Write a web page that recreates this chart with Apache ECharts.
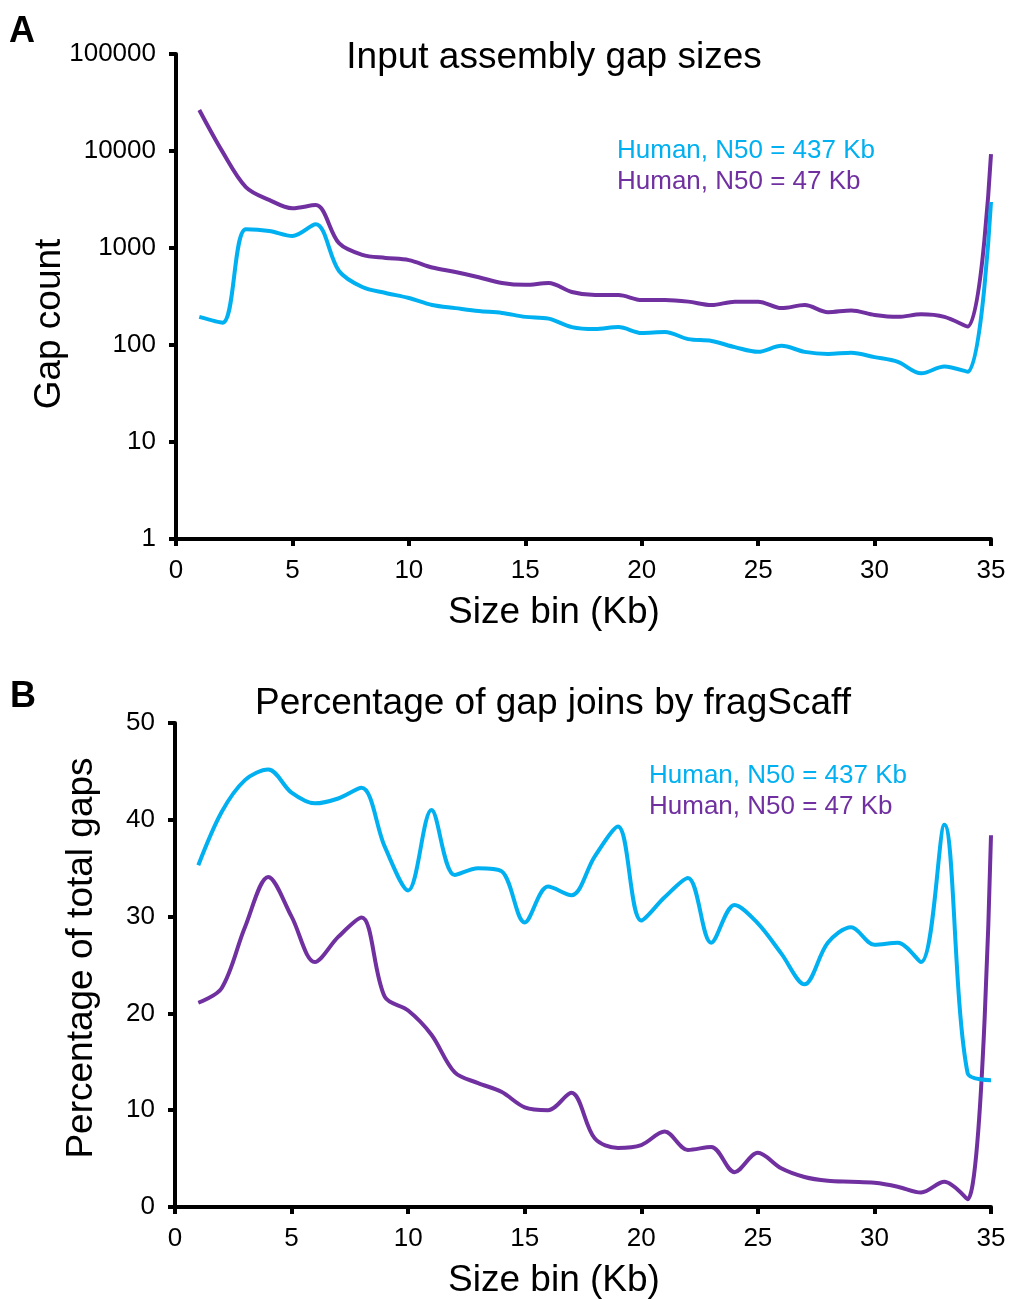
<!DOCTYPE html>
<html>
<head>
<meta charset="utf-8">
<script src="https://cdn.jsdelivr.net/npm/echarts@6/dist/echarts.min.js"></script>
<style>
html,body{margin:0;padding:0;background:#fff;}
#chart{width:1009px;height:1299px;}
</style>
</head>
<body>
<div id="chart"></div>
<script>
// ---- data ----
const sizeBins = [1,2,3,4,5,6,7,8,9,10,11,12,13,14,15,16,17,18,19,20,21,22,23,24,25,26,27,28,29,30,31,32,33,34,35];
const seriesNames = ['Human, N50 = 437 Kb', 'Human, N50 = 47 Kb'];
const gapCount437 = [195,170,1560,1500,1330,1760,580,396,344,305,258,240,224,214,195,187,153,146,153,133,136,115,110,95,85,98,85,81,83,75,67,51,60,53,2980];
const gapCount47 = [26500,9800,4250,3130,2570,2770,1120,850,790,750,630,566,500,436,417,436,352,327,327,291,291,280,258,280,280,240,258,218,227,204,195,207,195,155,9300];
const pctJoin437 = [35.3,40.8,44.1,45.2,42.8,41.7,42.2,43.3,37.2,32.7,41.0,34.3,35.0,34.7,29.4,33.1,32.2,36.2,39.3,29.6,32.0,34.0,27.3,31.2,29.3,26.2,23.0,27.3,28.9,27.1,27.3,25.3,39.5,13.8,13.1];
const pctJoin47 = [21.1,22.6,28.9,34.1,30.0,25.3,27.9,29.9,21.7,20.3,17.8,13.9,12.8,11.9,10.3,10.0,11.8,7.1,6.1,6.4,7.8,5.9,6.2,3.6,5.6,4.0,3.1,2.7,2.6,2.5,2.1,1.5,2.6,0.8,38.4];
const xTicks = [0,5,10,15,20,25,30,35];
const yTicksA = [1,10,100,1000,10000,100000];
const yTicksB = [0,10,20,30,40,50];

const CYAN = '#00B0F0';
const PURPLE = '#7030A0';
const FONT = '"Liberation Sans", Arial, Helvetica, sans-serif';

function pairs(xs, ys){ return xs.map((x,i)=>[x, ys[i]]); }

const chart = echarts.init(document.getElementById('chart'), null, {renderer:'canvas'});

const axisLine = {show:true, onZero:false, lineStyle:{color:'#000', width:4}};
const axisTick = {show:true, inside:false, length:7, lineStyle:{color:'#000', width:4}};
const tickLabel = {color:'#000', fontSize:26, fontFamily:FONT};

function xAxisFor(gridIndex){
  return {
    type:'value', gridIndex, min:xTicks[0], max:xTicks[xTicks.length-1], interval:5,
    axisLine, axisTick, splitLine:{show:false},
    axisLabel:Object.assign({margin:19}, tickLabel)
  };
}

const SMOOTH = 0.33;

const option = {
  animation:false,
  backgroundColor:'#fff',
  grid:[
    {left:176, top:54, width:815, height:485},
    {left:175, top:723, width:816, height:484}
  ],
  xAxis:[xAxisFor(0), xAxisFor(1)],
  yAxis:[
    {
      type:'log', gridIndex:0, logBase:10, min:yTicksA[0], max:yTicksA[yTicksA.length-1],
      axisLine, axisTick, splitLine:{show:false},
      axisLabel:Object.assign({margin:20, formatter:(v)=>String(Math.round(v))}, tickLabel)
    },
    {
      type:'value', gridIndex:1, min:yTicksB[0], max:yTicksB[yTicksB.length-1], interval:10,
      axisLine, axisTick, splitLine:{show:false},
      axisLabel:Object.assign({margin:20}, tickLabel)
    }
  ],
  legend:[
    {
      left:612, top:135, orient:'vertical', padding:0, itemGap:0, itemWidth:0, itemHeight:0, icon:'circle',
      textStyle:{fontSize:26, fontFamily:FONT, lineHeight:31.5},
      data:[{name:seriesNames[0], textStyle:{color:CYAN}}, {name:seriesNames[1], textStyle:{color:PURPLE}}]
    },
    {
      left:644, top:760, orient:'vertical', padding:0, itemGap:0, itemWidth:0, itemHeight:0, icon:'circle',
      textStyle:{fontSize:26, fontFamily:FONT, lineHeight:31.5},
      data:[{name:seriesNames[0], textStyle:{color:CYAN}}, {name:seriesNames[1], textStyle:{color:PURPLE}}]
    }
  ],
  series:[
    {name:seriesNames[1], type:'line', xAxisIndex:0, yAxisIndex:0, data:pairs(sizeBins, gapCount47), smooth:SMOOTH, showSymbol:false, color:PURPLE, lineStyle:{color:PURPLE, width:4}},
    {name:seriesNames[0], type:'line', xAxisIndex:0, yAxisIndex:0, data:pairs(sizeBins, gapCount437), smooth:SMOOTH, showSymbol:false, color:CYAN, lineStyle:{color:CYAN, width:4}},
    {name:seriesNames[1], type:'line', xAxisIndex:1, yAxisIndex:1, data:pairs(sizeBins, pctJoin47), smooth:SMOOTH, showSymbol:false, color:PURPLE, lineStyle:{color:PURPLE, width:4}},
    {name:seriesNames[0], type:'line', xAxisIndex:1, yAxisIndex:1, data:pairs(sizeBins, pctJoin437), smooth:SMOOTH, showSymbol:false, color:CYAN, lineStyle:{color:CYAN, width:4}}
  ],
  graphic:[
    {type:'text', left:9, top:14, style:{text:'A', fontSize:36, fontWeight:'bold', fontFamily:FONT, fill:'#000'}},
    {type:'text', left:10, top:679, style:{text:'B', fontSize:36, fontWeight:'bold', fontFamily:FONT, fill:'#000'}},
    {type:'text', x:554, y:58, style:{text:'Input assembly gap sizes', fontSize:37, fontFamily:FONT, fill:'#000', align:'center', verticalAlign:'middle'}},
    {type:'text', x:553, y:704, style:{text:'Percentage of gap joins by fragScaff', fontSize:37, fontFamily:FONT, fill:'#000', align:'center', verticalAlign:'middle'}},
    {type:'text', x:554, y:613, style:{text:'Size bin (Kb)', fontSize:37, fontFamily:FONT, fill:'#000', align:'center', verticalAlign:'middle'}},
    {type:'text', x:554, y:1281, style:{text:'Size bin (Kb)', fontSize:37, fontFamily:FONT, fill:'#000', align:'center', verticalAlign:'middle'}},
    {type:'text', x:50, y:324, rotation:Math.PI/2, style:{text:'Gap count', fontSize:37, fontFamily:FONT, fill:'#000', align:'center', verticalAlign:'middle'}},
    {type:'text', x:82, y:958, rotation:Math.PI/2, style:{text:'Percentage of total gaps', fontSize:37, fontFamily:FONT, fill:'#000', align:'center', verticalAlign:'middle'}}
  ]
};
chart.setOption(option);
</script>
</body>
</html>
